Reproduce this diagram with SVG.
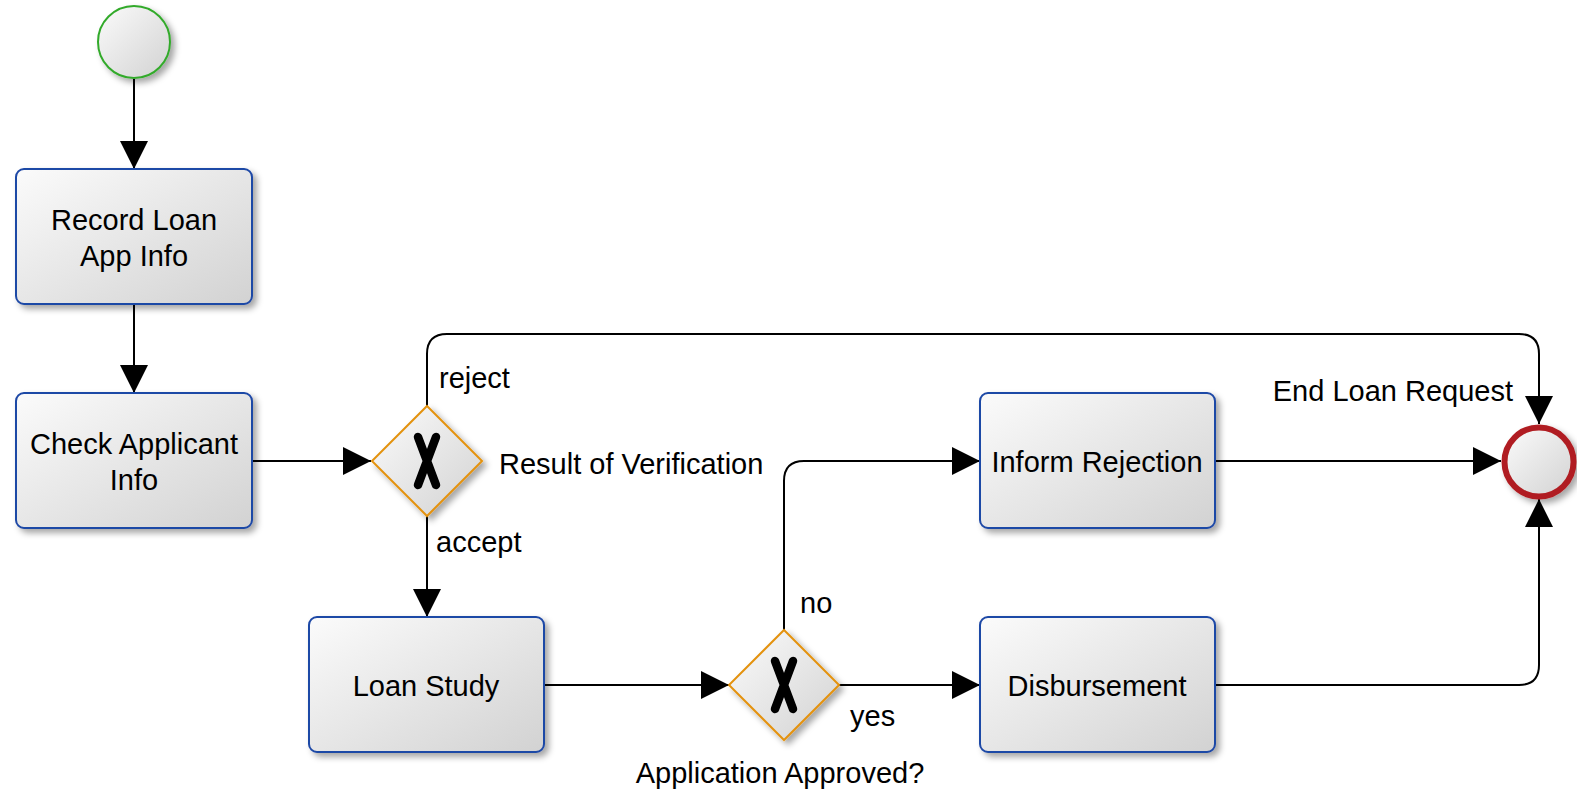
<svg xmlns="http://www.w3.org/2000/svg" width="1577" height="795" viewBox="0 0 1577 795">
  <defs>
    <linearGradient id="fillGrad" x1="0" y1="0" x2="1" y2="1">
      <stop offset="0" stop-color="#fbfbfb"/>
      <stop offset="1" stop-color="#d2d2d2"/>
    </linearGradient>
    <filter id="shadow" x="-20%" y="-20%" width="140%" height="140%">
      <feDropShadow dx="4" dy="4" stdDeviation="3" flood-color="#000" flood-opacity="0.35"/>
    </filter>
    <marker id="arrow" markerUnits="userSpaceOnUse" markerWidth="28" markerHeight="28" refX="28" refY="14" orient="auto">
      <path d="M0,0 L28,14 L0,28 Z" fill="#000"/>
    </marker>
  </defs>
  <style>
    .task { fill: url(#fillGrad); stroke: #1f48a6; stroke-width: 2; filter: url(#shadow); }
    .gw { fill: url(#fillGrad); stroke: #e4920f; stroke-width: 2; filter: url(#shadow); }
    .gwx { stroke: #000; stroke-width: 8.5; stroke-linecap: round; fill: none; }
    .start { fill: url(#fillGrad); stroke: #33aa2b; stroke-width: 2; filter: url(#shadow); }
    .end { fill: url(#fillGrad); stroke: #b01f22; stroke-width: 6; filter: url(#shadow); }
    .edge { fill: none; stroke: #000; stroke-width: 2; marker-end: url(#arrow); }
    text { font-family: "Liberation Sans", Arial, sans-serif; font-size: 29px; fill: #000; }
    .c { text-anchor: middle; }
    .r { text-anchor: end; }
  </style>

  <rect width="1577" height="795" fill="#fff"/>

  <!-- connectors -->
  <g id="connectors">
    <path class="edge" d="M134,79 V169"/>
    <path class="edge" d="M134,304 V393"/>
    <path class="edge" d="M252,461 H371"/>
    <path class="edge" d="M427,406 V354 Q427,334 447,334 H1519 Q1539,334 1539,354 V424"/>
    <path class="edge" d="M427,516 V617"/>
    <path class="edge" d="M544,685 H729"/>
    <path class="edge" d="M784,630 V481 Q784,461 804,461 H980"/>
    <path class="edge" d="M839,685 H980"/>
    <path class="edge" d="M1215,461 H1501"/>
    <path class="edge" d="M1215,685 H1519 Q1539,685 1539,665 V499"/>
    <text x="439" y="388">reject</text>
    <text x="436" y="552">accept</text>
    <text x="800" y="613">no</text>
    <text x="850" y="726">yes</text>
  </g>

  <!-- start event -->
  <g id="start">
    <circle class="start" cx="134" cy="42" r="36"/>
  </g>

  <!-- tasks -->
  <g id="record-loan">
    <rect class="task" x="16" y="169" width="236" height="135" rx="8"/>
    <text class="c" x="134" y="230">Record Loan</text>
    <text class="c" x="134" y="266">App Info</text>
  </g>
  <g id="check-applicant">
    <rect class="task" x="16" y="393" width="236" height="135" rx="8"/>
    <text class="c" x="134" y="454">Check Applicant</text>
    <text class="c" x="134" y="490">Info</text>
  </g>
  <g id="loan-study">
    <rect class="task" x="309" y="617" width="235" height="135" rx="8"/>
    <text class="c" x="426" y="696">Loan Study</text>
  </g>
  <g id="inform-rejection">
    <rect class="task" x="980" y="393" width="235" height="135" rx="8"/>
    <text class="c" x="1097" y="472">Inform Rejection</text>
  </g>
  <g id="disbursement">
    <rect class="task" x="980" y="617" width="235" height="135" rx="8"/>
    <text class="c" x="1097" y="696">Disbursement</text>
  </g>

  <!-- gateways -->
  <g id="result-verification">
    <path class="gw" d="M427,406 L482,461 L427,516 L372,461 Z"/>
    <path class="gwx" d="M418,437 L436,485 M436,437 L418,485"/>
    <text x="499" y="474">Result of Verification</text>
  </g>
  <g id="application-approved">
    <path class="gw" d="M784,630 L839,685 L784,740 L729,685 Z"/>
    <path class="gwx" d="M775,661 L793,709 M793,661 L775,709"/>
    <text class="c" x="780" y="783">Application Approved?</text>
  </g>

  <!-- end event -->
  <g id="end-loan-request">
    <circle class="end" cx="1539" cy="462" r="34.5"/>
    <text class="r" x="1513" y="401">End Loan Request</text>
  </g>
</svg>
